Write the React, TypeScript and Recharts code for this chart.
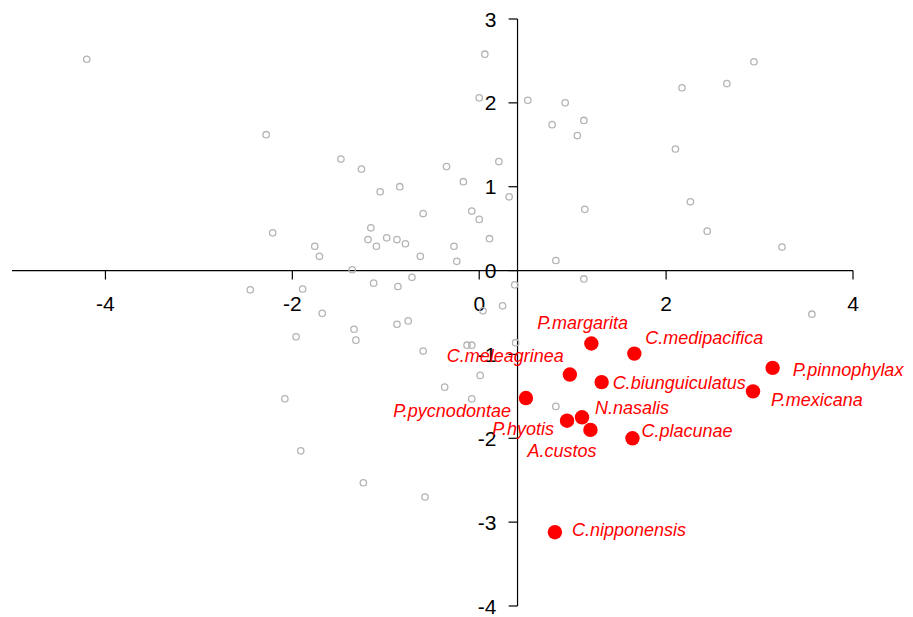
import { ScatterChart, Scatter, XAxis, YAxis, ReferenceLine } from "recharts";

// background samples (open grey circles)
const grayX = [
  -4.2, -2.28, -2.21, -1.48, -1.26, -1.06, -0.85, -0.6, -0.35, -1.76, -1.71, -1.16, -1.19, -1.1, -0.99,
  -0.88, -0.79, -0.63, -0.27, -0.24, -1.36, 0.06, 0.0, 0.21, -0.17, 0.32, -0.08, 0.0, 0.11, 0.52, 0.92,
  0.78, 1.12, 1.05, 1.13, 0.82, 1.12, 2.17, 2.65, 2.94, 2.1, 2.26, 2.44, 3.24, 3.56, 0.82, 0.39, 0.38,
  -1.13, -0.87, -0.72, -2.45, -1.89, -1.68, -1.34, -1.32, -1.96, -0.88, -0.76, -0.6, -0.37, -2.08, -1.91,
  -1.24, -0.58, 0.25, 0.04, -0.13, -0.08, 0.01, -0.08,
];
const grayY = [
  2.52, 1.62, 0.45, 1.33, 1.21, 0.94, 1.0, 0.68, 1.24, 0.29, 0.17, 0.51, 0.37, 0.29, 0.39,
  0.37, 0.32, 0.17, 0.29, 0.11, 0.01, 2.58, 2.06, 1.3, 1.06, 0.88, 0.71, 0.61, 0.38, 2.03, 2.0,
  1.74, 1.79, 1.61, 0.73, 0.12, -0.1, 2.18, 2.23, 2.49, 1.45, 0.82, 0.47, 0.28, -0.52, -1.62, -0.86, -0.17,
  -0.15, -0.19, -0.08, -0.23, -0.22, -0.51, -0.7, -0.83, -0.79, -0.64, -0.6, -0.96, -1.39, -1.53, -2.15,
  -2.53, -2.7, -0.42, -0.48, -0.89, -0.89, -1.25, -1.53,
];

// highlighted species
const redNames = [
  "P.margarita", "C.medipacifica", "P.pinnophylax", "C.meleagrinea", "C.biunguiculatus", "P.mexicana",
  "P.pycnodontae", "N.nasalis", "P.hyotis", "A.custos", "C.placunae", "C.nipponensis",
];
const redX = [1.2, 1.66, 3.14, 0.97, 1.31, 2.93, 0.5, 1.1, 0.94, 1.19, 1.64, 0.81];
const redY = [-0.87, -0.99, -1.16, -1.24, -1.33, -1.44, -1.52, -1.75, -1.79, -1.9, -2.0, -3.12];

const xTicks = [-4, -2, 0, 2, 4];
const yTicks = [-4, -3, -2, -1, 0, 1, 2, 3];
const yAxisAt = 0.41;

// label placement relative to the dot: dx, dy, anchor
const labelPlace: Record<string, [number, number, "start" | "end"]> = {
  "P.margarita": [-54, -15, "start"],
  "C.medipacifica": [11, -10, "start"],
  "P.pinnophylax": [20, 8, "start"],
  "C.meleagrinea": [-6, -13, "end"],
  "C.biunguiculatus": [11, 7, "start"],
  "P.mexicana": [18, 15, "start"],
  "P.pycnodontae": [-15, 19, "end"],
  "N.nasalis": [13, -3, "start"],
  "P.hyotis": [-13, 14, "end"],
  "A.custos": [-63, 27, "start"],
  "C.placunae": [9, -1, "start"],
  "C.nipponensis": [17, 4, "start"],
};

const FONT = "'Liberation Sans', Arial, Helvetica, sans-serif";

const grayPoints = grayX.map((x, i) => ({ x, y: grayY[i] }));
const redPoints = redNames.map((name, i) => ({ name, x: redX[i], y: redY[i] }));
const xTickPoints = xTicks.map((t) => ({ x: t, y: 0, label: t }));
const yTickPoints = yTicks.map((t) => ({ x: yAxisAt, y: t, label: t }));

export default function App() {
  return (
    <div style={{ position: "absolute", left: 0, top: 0, background: "#fff" }}>
      <ScatterChart
        width={913}
        height={617}
        margin={{ top: 19, right: 60, bottom: 11, left: 12 }}
        style={{ overflow: "visible" }}
      >
        <XAxis type="number" dataKey="x" domain={[-5, 4]} hide />
        <YAxis type="number" dataKey="y" domain={[-4, 3]} hide />
        <ReferenceLine y={0} stroke="#000" strokeWidth={1.2} />
        <ReferenceLine x={yAxisAt} stroke="#000" strokeWidth={1.2} />
        <Scatter
          data={xTickPoints}
          isAnimationActive={false}
          shape={(p: any) => (
            <g>
              <line x1={p.cx} y1={p.cy} x2={p.cx} y2={p.cy + 9} stroke="#000" strokeWidth={1.2} />
              <text x={p.cx} y={p.cy + 40} textAnchor="middle" fontSize={21} fontFamily={FONT} fill="#000">
                {p.payload.label}
              </text>
            </g>
          )}
        />
        <Scatter
          data={yTickPoints}
          isAnimationActive={false}
          shape={(p: any) => (
            <g>
              <line x1={p.cx - 9} y1={p.cy} x2={p.cx} y2={p.cy} stroke="#000" strokeWidth={1.2} />
              <text x={p.cx - 21} y={p.cy + 7.5} textAnchor="end" fontSize={21} fontFamily={FONT} fill="#000">
                {p.payload.label}
              </text>
            </g>
          )}
        />
        <Scatter
          data={grayPoints}
          isAnimationActive={false}
          shape={(p: any) => <circle cx={p.cx} cy={p.cy} r={3.2} fill="none" stroke="#b4b4b4" strokeWidth={1.3} />}
        />
        <Scatter
          data={redPoints}
          isAnimationActive={false}
          shape={(p: any) => <circle cx={p.cx} cy={p.cy} r={7.2} fill="#ff0000" />}
        />
        <Scatter
          data={redPoints}
          isAnimationActive={false}
          shape={(p: any) => {
            const [dx, dy, anchor] = labelPlace[p.payload.name];
            return (
              <text
                x={p.cx + dx}
                y={p.cy + dy}
                textAnchor={anchor}
                fontSize={18}
                fontStyle="italic"
                fontFamily={FONT}
                fill="#ff0000"
              >
                {p.payload.name}
              </text>
            );
          }}
        />
      </ScatterChart>
    </div>
  );
}
